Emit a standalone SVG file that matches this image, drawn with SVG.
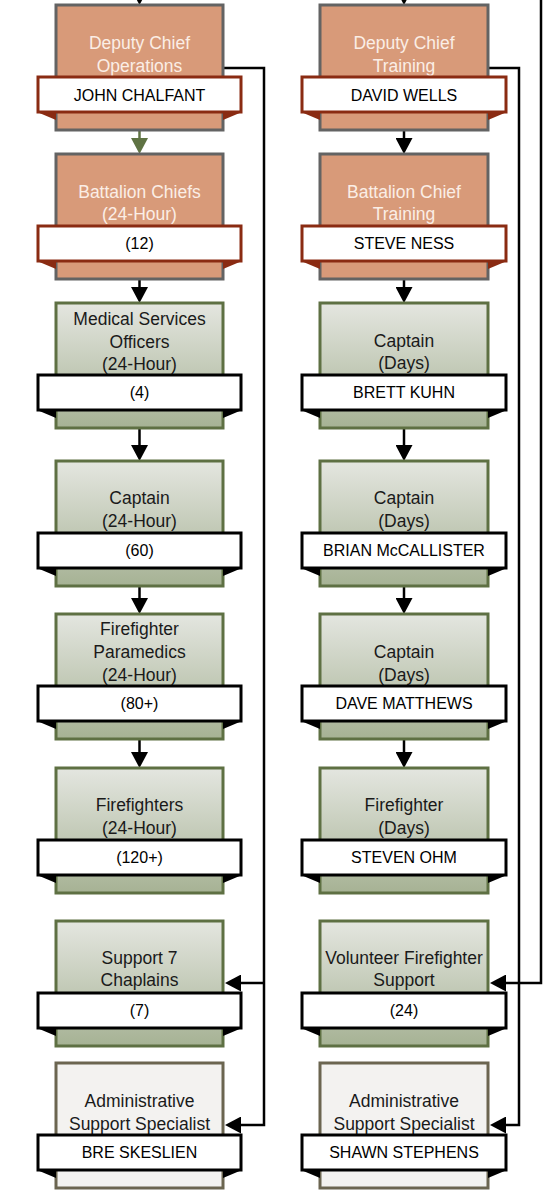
<svg xmlns="http://www.w3.org/2000/svg" width="556" height="1194" viewBox="0 0 556 1194">
<defs>
<linearGradient id="gGreen" x1="0" y1="0" x2="0" y2="1">
<stop offset="0" stop-color="#e4e6e0"/>
<stop offset="1" stop-color="#a6b294"/>
</linearGradient>
<marker id="ah" markerUnits="userSpaceOnUse" markerWidth="16" markerHeight="17" viewBox="0 0 16 17" refX="4" refY="8.5" orient="auto">
<path d="M0,0 L16,8.5 L0,17 z" fill="#000"/>
</marker>
<marker id="ahg" markerUnits="userSpaceOnUse" markerWidth="16" markerHeight="17" viewBox="0 0 16 17" refX="4" refY="8.5" orient="auto">
<path d="M0,0 L16,8.5 L0,17 z" fill="#5f7343"/>
</marker>
</defs>
<style>
.box{stroke-width:3}
.or{fill:#d89a79;stroke:#636363}
.gr{fill:url(#gGreen);stroke:#5e7043}
.ad{fill:#f3f2f0;stroke:#6b6550}
.ban{fill:#fff;stroke-width:3}
.bo{stroke:#8a2b12}
.bk{stroke:#000}
.fo{fill:#8a2b12}
.fk{fill:#000}
text{font-family:"Liberation Sans",Arial,sans-serif;font-size:17.5px;text-anchor:middle}
.tw{fill:#fbeee6}
.td{fill:#1a1a1a}
.tn{fill:#000;font-size:16px}
.ln{fill:none;stroke:#000;stroke-width:2.5}
.lg{fill:none;stroke:#5f7343;stroke-width:2.5}
</style>
<rect width="556" height="1194" fill="#fff"/>

<g id="connectors">
<path class="ln" d="M139.5,-20 V-7" marker-end="url(#ah)"/>
<path class="ln" d="M404,-20 V-7" marker-end="url(#ah)"/>
<path class="lg" d="M139.5,130 V142" marker-end="url(#ahg)"/>
<path class="ln" d="M139.5,280 V291" marker-end="url(#ah)"/>
<path class="ln" d="M139.5,428 V449" marker-end="url(#ah)"/>
<path class="ln" d="M139.5,586 V602" marker-end="url(#ah)"/>
<path class="ln" d="M139.5,740 V756" marker-end="url(#ah)"/>
<path class="ln" d="M404,130 V142" marker-end="url(#ah)"/>
<path class="ln" d="M404,280 V291" marker-end="url(#ah)"/>
<path class="ln" d="M404,428 V449" marker-end="url(#ah)"/>
<path class="ln" d="M404,586 V602" marker-end="url(#ah)"/>
<path class="ln" d="M404,740 V756" marker-end="url(#ah)"/>
<path class="ln" d="M224,68 H264 V1125 H237" marker-end="url(#ah)"/>
<path class="ln" d="M264,983 H237" marker-end="url(#ah)"/>
<path class="ln" d="M489,68 H519 V1125 H502" marker-end="url(#ah)"/>
<path class="ln" d="M541,-5 V983 H502" marker-end="url(#ah)"/>
</g>

<!-- Left column -->
<g id="n-dc-ops">
<rect class="box or" x="56" y="5" width="167" height="125"/>
<text class="tw" x="139.5" y="49">Deputy Chief</text>
<text class="tw" x="139.5" y="72">Operations</text>
<polygon class="fo" points="37,112 56,112 56,120"/>
<polygon class="fo" points="242,112 223,112 223,120"/>
<rect class="ban bo" x="38" y="77" width="203" height="35"/>
<text class="tn" x="139.5" y="101">JOHN CHALFANT</text>
</g>
<g id="n-bc-24">
<rect class="box or" x="56" y="154" width="167" height="125"/>
<text class="tw" x="139.5" y="198">Battalion Chiefs</text>
<text class="tw" x="139.5" y="220">(24-Hour)</text>
<polygon class="fo" points="37,261 56,261 56,269"/>
<polygon class="fo" points="242,261 223,261 223,269"/>
<rect class="ban bo" x="38" y="226" width="203" height="35"/>
<text class="tn" x="139.5" y="249">(12)</text>
</g>
<g id="n-mso">
<rect class="box gr" x="56" y="303" width="167" height="125"/>
<text class="td" x="139.5" y="325">Medical Services</text>
<text class="td" x="139.5" y="348">Officers</text>
<text class="td" x="139.5" y="370">(24-Hour)</text>
<polygon class="fk" points="37,410 56,410 56,418"/>
<polygon class="fk" points="242,410 223,410 223,418"/>
<rect class="ban bk" x="38" y="375" width="203" height="35"/>
<text class="tn" x="139.5" y="398">(4)</text>
</g>
<g id="n-cap-24">
<rect class="box gr" x="56" y="461" width="167" height="125"/>
<text class="td" x="139.5" y="504">Captain</text>
<text class="td" x="139.5" y="527">(24-Hour)</text>
<polygon class="fk" points="37,568 56,568 56,576"/>
<polygon class="fk" points="242,568 223,568 223,576"/>
<rect class="ban bk" x="38" y="533" width="203" height="35"/>
<text class="tn" x="139.5" y="556">(60)</text>
</g>
<g id="n-ffp-24">
<rect class="box gr" x="56" y="614" width="167" height="125"/>
<text class="td" x="139.5" y="635">Firefighter</text>
<text class="td" x="139.5" y="658">Paramedics</text>
<text class="td" x="139.5" y="681">(24-Hour)</text>
<polygon class="fk" points="37,721 56,721 56,729"/>
<polygon class="fk" points="242,721 223,721 223,729"/>
<rect class="ban bk" x="38" y="686" width="203" height="35"/>
<text class="tn" x="139.5" y="709">(80+)</text>
</g>
<g id="n-ff-24">
<rect class="box gr" x="56" y="768" width="167" height="125"/>
<text class="td" x="139.5" y="811">Firefighters</text>
<text class="td" x="139.5" y="834">(24-Hour)</text>
<polygon class="fk" points="37,875 56,875 56,883"/>
<polygon class="fk" points="242,875 223,875 223,883"/>
<rect class="ban bk" x="38" y="840" width="203" height="35"/>
<text class="tn" x="139.5" y="863">(120+)</text>
</g>
<g id="n-chap">
<rect class="box gr" x="56" y="921" width="167" height="125"/>
<text class="td" x="139.5" y="964">Support 7</text>
<text class="td" x="139.5" y="986">Chaplains</text>
<polygon class="fk" points="37,1028 56,1028 56,1036"/>
<polygon class="fk" points="242,1028 223,1028 223,1036"/>
<rect class="ban bk" x="38" y="993" width="203" height="35"/>
<text class="tn" x="139.5" y="1016">(7)</text>
</g>
<g id="n-admin-l">
<rect class="box ad" x="56" y="1063" width="167" height="125"/>
<text class="td" x="139.5" y="1107">Administrative</text>
<text class="td" x="139.5" y="1130">Support Specialist</text>
<polygon class="fk" points="37,1170 56,1170 56,1178"/>
<polygon class="fk" points="242,1170 223,1170 223,1178"/>
<rect class="ban bk" x="38" y="1135" width="203" height="35"/>
<text class="tn" x="139.5" y="1158">BRE SKESLIEN</text>
</g>

<!-- Right column -->
<g id="n-dc-trn">
<rect class="box or" x="320" y="5" width="168" height="125"/>
<text class="tw" x="404" y="49">Deputy Chief</text>
<text class="tw" x="404" y="72">Training</text>
<polygon class="fo" points="301,112 320,112 320,120"/>
<polygon class="fo" points="507,112 488,112 488,120"/>
<rect class="ban bo" x="302" y="77" width="204" height="35"/>
<text class="tn" x="404" y="101">DAVID WELLS</text>
</g>
<g id="n-bc-trn">
<rect class="box or" x="320" y="154" width="168" height="125"/>
<text class="tw" x="404" y="198">Battalion Chief</text>
<text class="tw" x="404" y="220">Training</text>
<polygon class="fo" points="301,261 320,261 320,269"/>
<polygon class="fo" points="507,261 488,261 488,269"/>
<rect class="ban bo" x="302" y="226" width="204" height="35"/>
<text class="tn" x="404" y="249">STEVE NESS</text>
</g>
<g id="n-cap-d1">
<rect class="box gr" x="320" y="303" width="168" height="125"/>
<text class="td" x="404" y="347">Captain</text>
<text class="td" x="404" y="369">(Days)</text>
<polygon class="fk" points="301,410 320,410 320,418"/>
<polygon class="fk" points="507,410 488,410 488,418"/>
<rect class="ban bk" x="302" y="375" width="204" height="35"/>
<text class="tn" x="404" y="398">BRETT KUHN</text>
</g>
<g id="n-cap-d2">
<rect class="box gr" x="320" y="461" width="168" height="125"/>
<text class="td" x="404" y="504">Captain</text>
<text class="td" x="404" y="527">(Days)</text>
<polygon class="fk" points="301,568 320,568 320,576"/>
<polygon class="fk" points="507,568 488,568 488,576"/>
<rect class="ban bk" x="302" y="533" width="204" height="35"/>
<text class="tn" x="404" y="556">BRIAN McCALLISTER</text>
</g>
<g id="n-cap-d3">
<rect class="box gr" x="320" y="614" width="168" height="125"/>
<text class="td" x="404" y="658">Captain</text>
<text class="td" x="404" y="681">(Days)</text>
<polygon class="fk" points="301,721 320,721 320,729"/>
<polygon class="fk" points="507,721 488,721 488,729"/>
<rect class="ban bk" x="302" y="686" width="204" height="35"/>
<text class="tn" x="404" y="709">DAVE MATTHEWS</text>
</g>
<g id="n-ff-d">
<rect class="box gr" x="320" y="768" width="168" height="125"/>
<text class="td" x="404" y="811">Firefighter</text>
<text class="td" x="404" y="834">(Days)</text>
<polygon class="fk" points="301,875 320,875 320,883"/>
<polygon class="fk" points="507,875 488,875 488,883"/>
<rect class="ban bk" x="302" y="840" width="204" height="35"/>
<text class="tn" x="404" y="863">STEVEN OHM</text>
</g>
<g id="n-vol">
<rect class="box gr" x="320" y="921" width="168" height="125"/>
<text class="td" x="404" y="964">Volunteer Firefighter</text>
<text class="td" x="404" y="986">Support</text>
<polygon class="fk" points="301,1028 320,1028 320,1036"/>
<polygon class="fk" points="507,1028 488,1028 488,1036"/>
<rect class="ban bk" x="302" y="993" width="204" height="35"/>
<text class="tn" x="404" y="1016">(24)</text>
</g>
<g id="n-admin-r">
<rect class="box ad" x="320" y="1063" width="168" height="125"/>
<text class="td" x="404" y="1107">Administrative</text>
<text class="td" x="404" y="1130">Support Specialist</text>
<polygon class="fk" points="301,1170 320,1170 320,1178"/>
<polygon class="fk" points="507,1170 488,1170 488,1178"/>
<rect class="ban bk" x="302" y="1135" width="204" height="35"/>
<text class="tn" x="404" y="1158">SHAWN STEPHENS</text>
</g>
</svg>
